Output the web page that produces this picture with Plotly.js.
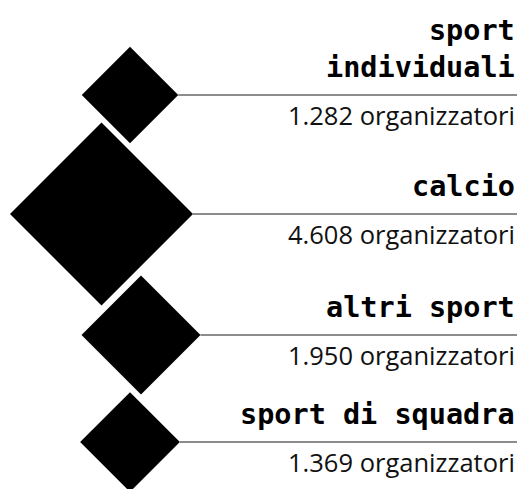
<!DOCTYPE html>
<html>
<head>
<meta charset="utf-8">
<script src="https://cdn.plot.ly/plotly-3.0.1.min.js"></script>
<style>
  html, body { margin: 0; padding: 0; background: #fff; }
  #chart { width: 521px; height: 489px; }
</style>
</head>
<body>
<div id="chart"></div>
<script>
// ---- data ----
const categories = ['sport<br>individuali', 'calcio', 'altri sport', 'sport di squadra'];
const organizzatori = [1282, 4608, 1950, 1369];
const unitLabel = 'organizzatori';

// ---- layout positions (pixel space) ----
const rowY = [95, 214, 335, 442];
const rowX = [130, 101.5, 141, 130];
const lineEndX = 517;

function fmt(n) {
  return String(n).replace(/\B(?=(\d{3})+(?!\d))/g, '.');
}

const W = 521, H = 489;
const maxHalfDiag = 91.5;
// plotly bubble: radius = sqrt(v / (2*sizeref)); diamond half-diagonal = 1.3 * radius
const sizeref = Math.max(...organizzatori) * 1.69 / (2 * maxHalfDiag * maxHalfDiag);
const halfDiag = organizzatori.map(v => 1.3 * Math.sqrt(v / (2 * sizeref)));

const lineX = [], lineY = [];
organizzatori.forEach((v, i) => {
  lineX.push(rowX[i] + halfDiag[i], lineEndX, null);
  lineY.push(rowY[i], rowY[i], null);
});

const traces = [
  {
    type: 'scatter', mode: 'lines',
    x: lineX, y: lineY,
    line: { color: '#666666', width: 1.5 },
    hoverinfo: 'skip', showlegend: false
  },
  {
    type: 'scatter', mode: 'markers',
    x: rowX, y: rowY,
    text: categories,
    marker: {
      symbol: 'diamond',
      size: organizzatori,
      sizemode: 'area',
      sizeref: sizeref,
      color: '#000000',
      opacity: 1,
      line: { width: 0 }
    },
    hoverinfo: 'text', showlegend: false
  }
];

const annotations = [];
categories.forEach((c, i) => {
  annotations.push({
    x: lineEndX, y: rowY[i] - 9, xref: 'x', yref: 'y',
    xanchor: 'right', yanchor: 'bottom', align: 'right',
    text: c, showarrow: false,
    font: { family: 'DejaVu Sans Mono', size: 28.5, color: '#000', weight: 'bold' }
  });
  annotations.push({
    x: lineEndX, y: rowY[i] + 1, xref: 'x', yref: 'y',
    xanchor: 'right', yanchor: 'top', align: 'right',
    text: fmt(organizzatori[i]) + ' ' + unitLabel, showarrow: false,
    font: { family: 'Open Sans', size: 25.5, color: '#111' }
  });
});

const layout = {
  width: W, height: H,
  margin: { l: 0, r: 0, t: 0, b: 0 },
  paper_bgcolor: '#ffffff', plot_bgcolor: '#ffffff',
  xaxis: { range: [0, W], visible: false, fixedrange: true },
  yaxis: { range: [H, 0], visible: false, fixedrange: true },
  annotations: annotations,
  showlegend: false
};

Plotly.newPlot('chart', traces, layout, { displayModeBar: false, staticPlot: true });
</script>
</body>
</html>
